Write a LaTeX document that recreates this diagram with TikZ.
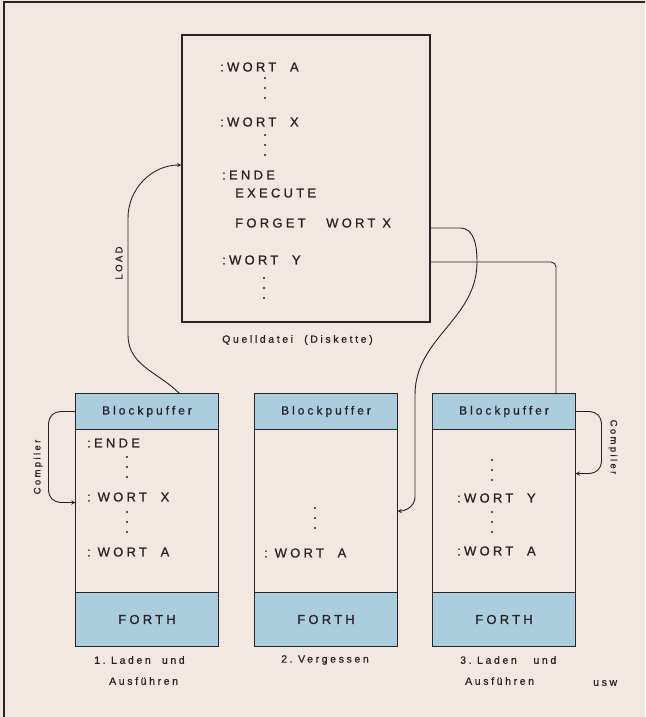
\documentclass[tikz,border=0pt]{standalone}
\usepackage{fontspec}
\newfontfamily\plotfont[LetterSpace=25, FakeBold=0.8]{Liberation Sans}
\usetikzlibrary{positioning, calc, arrows.meta}

\definecolor{paper}{RGB}{243,231,225}
\definecolor{bandblue}{RGB}{172,205,221}
\definecolor{ink}{RGB}{38,36,38}

% three dots under a word
\newcommand{\dotcol}[2]{\foreach \k in {0,1,2} \fill[ink] (#1,#2+10*\k) circle (1.2pt);}

\begin{document}
\begin{tikzpicture}[
    x=1pt, y=-1pt,
    >=stealth,
    big/.style={font=\plotfont\fontsize{13}{15}\selectfont, text=ink, inner sep=0pt},
    word/.style={big, anchor=west},
    small/.style={font=\plotfont\fontsize{10.5}{13}\selectfont, text=ink, inner sep=0pt},
    head/.style={font=\plotfont\fontsize{12}{14}\selectfont, text=ink, inner sep=0pt},
    tiny/.style={font=\plotfont\fontsize{9.5}{11}\selectfont, text=ink, inner sep=0pt},
    band/.style={rectangle, draw=ink, line width=1.3pt, fill=bandblue, minimum width=143pt, outer sep=0pt},
    mem/.style={rectangle, draw=ink, line width=1.3pt, minimum width=143pt, minimum height=163pt, outer sep=0pt},
    link/.style={draw=ink, line width=0.9pt}
]
    \fill[paper] (0,0) rectangle (645,717);
    \useasboundingbox (0,0) rectangle (645,717);
    \draw[ink, line width=1.3pt] (4,717) -- (4,2) -- (645,2);

    % source file
    \node[rectangle, draw=ink, line width=1.3pt, minimum width=248pt, minimum height=287pt] (quell) at (306,178.5) {};
    \node[word] (qa) at (220,67) {:WORT~~A};
    \node[word] (qx) at (220,122) {:WORT~~X};
    \node[word] (qende) at (222,175) {:ENDE};
    \node[word] (qexec) at (235,193) {EXECUTE};
    \node[word] (qforget) at (235,223) {FORGET~~~WORT~X};
    \node[word] (qy) at (222,260) {:WORT~~Y};
    \dotcol{265}{78}
    \dotcol{265}{135}
    \dotcol{264}{278}
    \node[small, anchor=west] (quelltag) at (222,340) {Quelldatei~~(Diskette)};

    % memory 1
    \node[band, head, minimum height=36pt] (bp1) at (147,411.5) {Blockpuffer};
    \node[mem, below=0pt of bp1] (mem1) {};
    \node[band, big, minimum height=54pt, below=0pt of mem1] (forth1) {FORTH};
    \node[word] (m1ende) at (87,443) {:ENDE};
    \node[word] (m1x) at (87,497) {:~WORT~~X};
    \node[word] (m1a) at (87,552) {:~WORT~~A};
    \dotcol{127}{457}
    \dotcol{127}{512}

    % memory 2
    \node[band, head, minimum height=36pt] (bp2) at (326,411.5) {Blockpuffer};
    \node[mem, below=0pt of bp2] (mem2) {};
    \node[band, big, minimum height=54pt, below=0pt of mem2] (forth2) {FORTH};
    \node[word] (m2a) at (264,553) {:~WORT~~A};
    \dotcol{315}{508}

    % memory 3
    \node[band, head, minimum height=36pt] (bp3) at (504,411.5) {Blockpuffer};
    \node[mem, below=0pt of bp3] (mem3) {};
    \node[band, big, minimum height=54pt, below=0pt of mem3] (forth3) {FORTH};
    \node[word] (m3y) at (457,498) {:WORT~~Y};
    \node[word] (m3a) at (457,551) {:WORT~~A};
    \dotcol{492}{460}
    \dotcol{492}{512}

    % captions
    \node[small, anchor=west] (cap1) at (94,660) {1.~Laden~~und};
    \node[small, anchor=west] (cap1b) at (109,681) {Ausführen};
    \node[small, anchor=west] (cap2) at (281,660) {2.~Vergessen};
    \node[small, anchor=west] (cap3) at (460,660) {3.~Laden~~~und};
    \node[small, anchor=west] (cap3b) at (465,681) {Ausführen};
    \node[small, anchor=west] (usw) at (593,683) {usw};

    % connectors
    \draw[link, ->] ([xshift=-39pt]bp1.north east) to[out=135,in=-90] (128,335) -- (128,218) to[out=90,in=180] ([yshift=13.5pt]quell.west);
    \node[tiny, rotate=90] (loadtag) at (119,263) {LOAD};

    \draw[link, ->] ([yshift=-49.5pt]quell.east) -- (460,228) to[out=0,in=90] (477,262) to[out=-90,in=90] (415,395) -- (415,497) to[out=-90,in=0] (mem2.east);
    \draw[link, rounded corners=5pt] ([yshift=-83.5pt]quell.east) -| ([xshift=52pt]bp3.north);

    \draw[link, ->, rounded corners=12pt] (bp1.west) -- ++(-27,0) |- ([yshift=8.5pt]mem1.west);
    \node[tiny, rotate=90] (comp1) at (38,467) {Compiler};
    \draw[link, ->, rounded corners=12pt] (bp3.east) -- ++(26,0) |- ([yshift=37.5pt]mem3.east);
    \node[tiny, rotate=-90] (comp3) at (613,447) {Compiler};
\end{tikzpicture}
\end{document}
